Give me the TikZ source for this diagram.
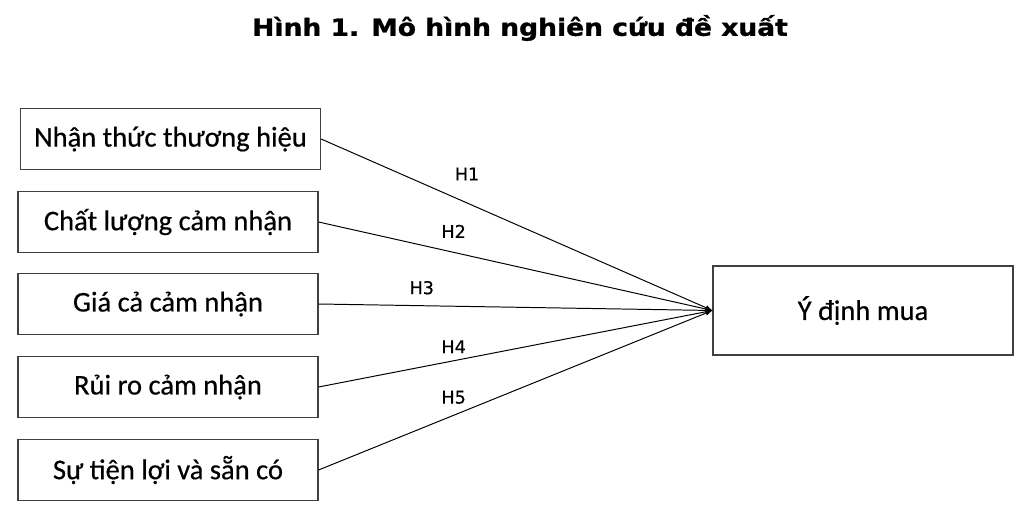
\documentclass[tikz,border=0pt]{standalone}
\usepackage{fontspec}
\setmainfont[FakeBold=0.5]{Carlito}
\newfontfamily\titlefont[FakeStretch=1.12, BoldFeatures={FakeBold=1.2}]{DejaVu Sans}
\newfontfamily\hypfont[FakeBold=0.6]{DejaVu Sans}
\usetikzlibrary{positioning}

\tikzset{
    factor/.style={draw=black!75, line width=0.8pt, minimum width=7.5cm, minimum height=1.525cm, inner sep=0pt, font=\fontsize{20.3}{24}\selectfont},
    hyp/.style={font=\hypfont\fontsize{12.5}{14}\selectfont},
}

\begin{document}
\begin{tikzpicture}
        \useasboundingbox (0,0) rectangle (25.6,-12.825);

        % title
        \node (title) at (13.0,-0.7) {\titlefont\bfseries\fontsize{16.85}{19}\selectfont Hình 1. Mô hình nghiên cứu đề xuất};

        % factors
        \node[factor] (f1) at (4.2625,-3.475) {Nhận thức thương hiệu};
        \node[factor] (f2) at (4.2,-5.55) {Chất lượng cảm nhận};
        \node[factor] (f3) at (4.2,-7.6) {Giá cả cảm nhận};
        \node[factor] (f4) at (4.2,-9.675) {Rủi ro cảm nhận};
        \node[factor] (f5) at (4.2,-11.75) {Sự tiện lợi và sẵn có};

        % intention
        \node[factor, minimum height=2.225cm] (intent) at (21.575,-7.7625) {Ý định mua};

        % hypotheses
        \draw[-latex, line width=0.7pt] (f1.east) -- (intent.west) node [hyp, pos=0.373, yshift=0.725cm] (h1) {H1};
        \draw[-latex, line width=0.7pt] (f2.east) -- (intent.west) node [hyp, pos=0.343, yshift=0.525cm] (h2) {H2};
        \draw[-latex, line width=0.7pt] (f3.east) -- (intent.west) node [hyp, pos=0.262, yshift=0.45cm] (h3) {H3};
        \draw[-latex, line width=0.7pt] (f4.east) -- (intent.west) node [hyp, pos=0.343, yshift=0.35cm] (h4) {H4};
        \draw[-latex, line width=0.7pt] (f5.east) -- (intent.west) node [hyp, pos=0.343, yshift=0.45cm] (h5) {H5};
    \end{tikzpicture}
\end{document}
